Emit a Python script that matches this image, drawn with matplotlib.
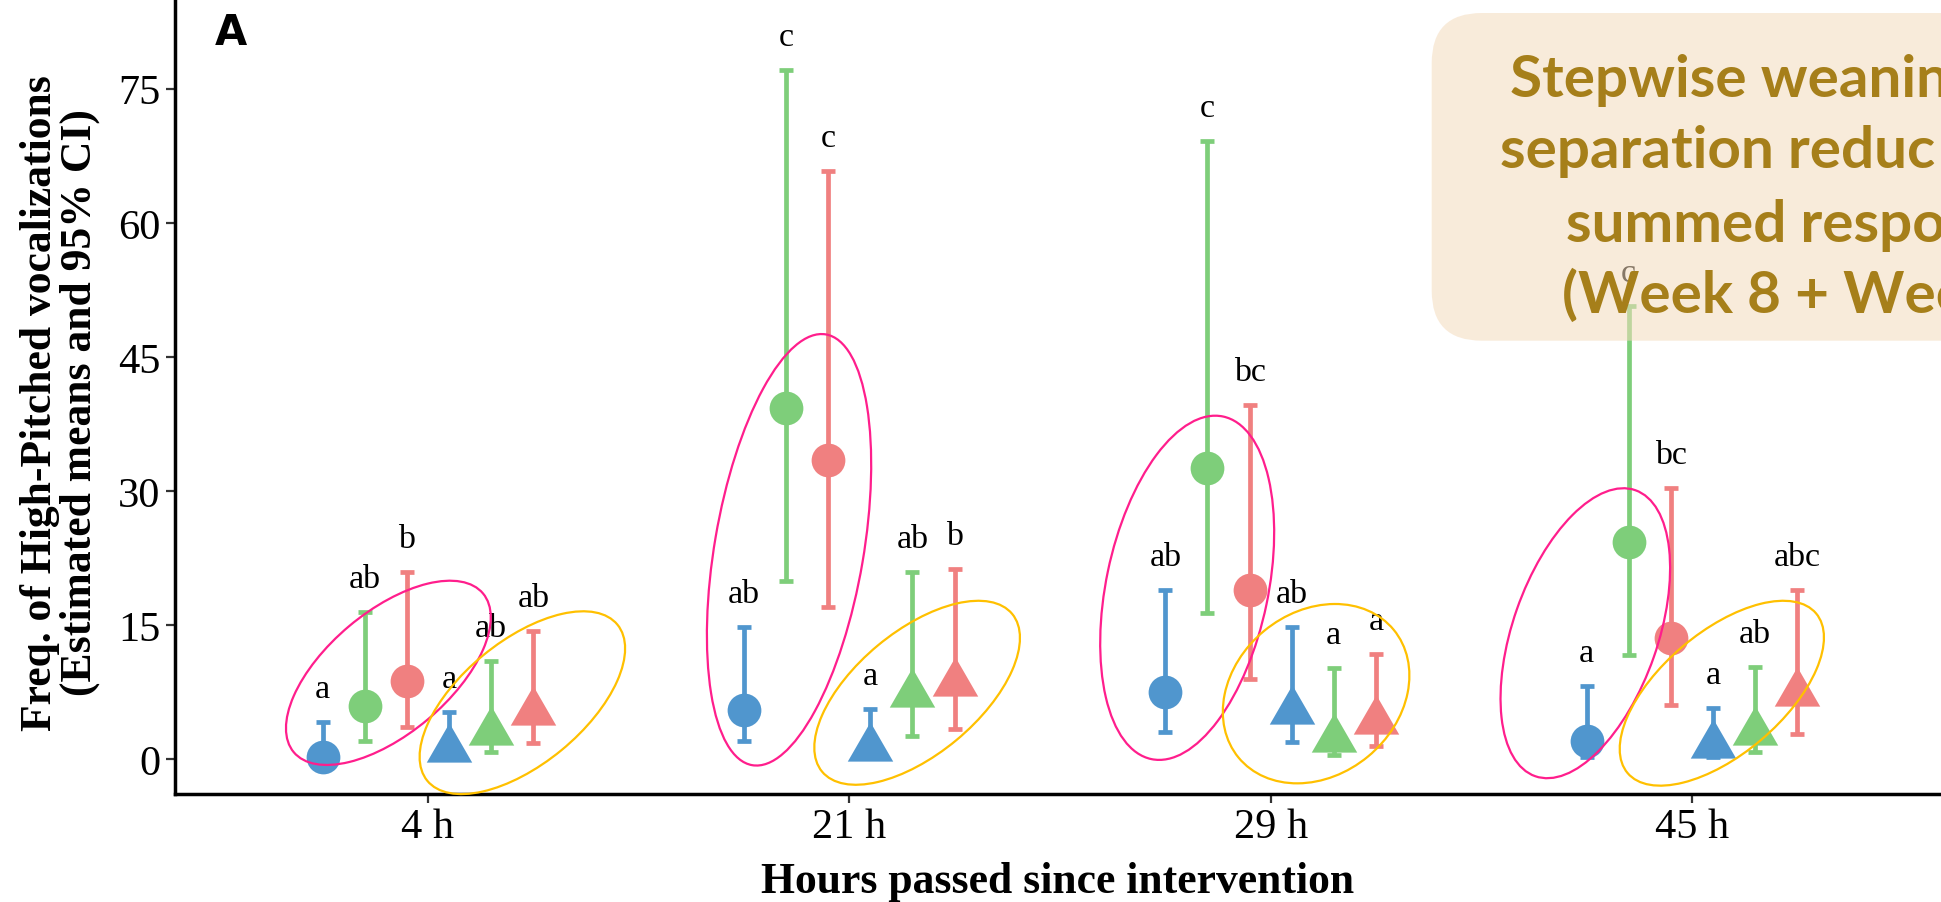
import matplotlib
matplotlib.use("Agg")
import matplotlib.pyplot as plt
from matplotlib.patches import Ellipse, FancyBboxPatch
from matplotlib.path import Path
from matplotlib.transforms import ScaledTranslation

# ---------------- data ----------------
hours = ["4 h", "21 h", "29 h", "45 h"]

# circles (week 8) -- blue / green / red treatment groups
blue_circle_mean = [0.22, 5.55, 7.56, 2.08]
blue_circle_low = [0.02, 2.08, 3.02, 0.30]
blue_circle_high = [4.14, 14.76, 18.97, 8.23]
blue_circle_letters = ["a", "ab", "ab", "a"]

green_circle_mean = [5.93, 39.26, 32.58, 24.34]
green_circle_low = [2.08, 19.90, 16.33, 11.67]
green_circle_high = [16.44, 77.13, 69.10, 50.73]
green_circle_letters = ["ab", "c", "c", "c"]

red_circle_mean = [8.72, 33.50, 18.94, 13.53]
red_circle_low = [3.65, 17.00, 8.98, 6.07]
red_circle_high = [20.98, 65.76, 39.63, 30.31]
red_circle_letters = ["b", "c", "bc", "bc"]

# triangles (week 9)
blue_tri_mean = [1.13, 1.31, 5.41, 1.58]
blue_tri_low = [0.20, 0.30, 1.90, 0.30]
blue_tri_high = [5.33, 5.63, 14.76, 5.70]
blue_tri_letters = ["a", "a", "ab", "a"]

green_tri_mean = [3.06, 7.35, 2.25, 3.10]
green_tri_low = [0.85, 2.57, 0.48, 0.78]
green_tri_high = [10.96, 20.99, 10.17, 10.29]
green_tri_letters = ["ab", "ab", "a", "ab"]

red_tri_mean = [5.30, 8.58, 4.30, 7.46]
red_tri_low = [1.82, 3.39, 1.53, 2.83]
red_tri_high = [14.38, 21.28, 11.78, 18.97]
red_tri_letters = ["ab", "b", "a", "abc"]

# ---------------- styling ----------------
BLUE, GREEN, RED = "#5096CE", "#7ECE7A", "#F08080"
SERIF = "Liberation Serif"

# R-style filled triangle (centroid at the data point)
TRIANGLE = Path([(0, 1.5551), (-1.3468, -0.7776), (1.3468, -0.7776), (0, 1.5551)],
                [Path.MOVETO, Path.LINETO, Path.LINETO, Path.CLOSEPOLY])
CIRCLE_MS = 24.3
TRI_MS = CIRCLE_MS * 1.5551

series = [
    (blue_circle_mean, blue_circle_low, blue_circle_high, blue_circle_letters, BLUE, "o"),
    (green_circle_mean, green_circle_low, green_circle_high, green_circle_letters, GREEN, "o"),
    (red_circle_mean, red_circle_low, red_circle_high, red_circle_letters, RED, "o"),
    (blue_tri_mean, blue_tri_low, blue_tri_high, blue_tri_letters, BLUE, "tri"),
    (green_tri_mean, green_tri_low, green_tri_high, green_tri_letters, GREEN, "tri"),
    (red_tri_mean, red_tri_low, red_tri_high, red_tri_letters, RED, "tri"),
]
dodge = [-0.25, -0.15, -0.05, 0.05, 0.15, 0.25]

W, H = 1941, 903
fig = plt.figure(figsize=(W / 100, H / 100), dpi=100)
fig.patch.set_facecolor("white")

# panel geometry in pixels
left_px, right_px = 175.2, 1944.7
top_px, bottom_px = 0.0, 795.0
ax = fig.add_axes([left_px / W, 1 - bottom_px / H,
                   (right_px - left_px) / W, (bottom_px - top_px) / H])
ax.set_xlim(-0.6, 3.6)
ax.set_ylim(-3.881, 85.03)
ax.set_facecolor("none")

xbase = list(range(len(hours)))

# error bars
for (mean, lo, hi, letters, col, mk), dx in zip(series, dodge):
    xs = [x + dx for x in xbase]
    yerr = [[m - l for m, l in zip(mean, lo)], [h - m for m, h in zip(mean, hi)]]
    ax.errorbar(xs, mean, yerr=yerr, fmt="none", ecolor=col, elinewidth=3.4,
                capsize=4.9, capthick=3.4, zorder=2)

# points
for (mean, lo, hi, letters, col, mk), dx in zip(series, dodge):
    xs = [x + dx for x in xbase]
    if mk == "o":
        ax.plot(xs, mean, linestyle="none", marker="o", ms=CIRCLE_MS,
                color=col, mec="none", zorder=3)
    else:
        ax.plot(xs, mean, linestyle="none", marker=TRIANGLE, ms=TRI_MS,
                color=col, mec="none", zorder=3)

# significance letters above the upper CI
for (mean, lo, hi, letters, col, mk), dx in zip(series, dodge):
    for x, h, lab in zip(xbase, hi, letters):
        ax.annotate(lab, (x + dx, h), xytext=(0, 18), textcoords="offset points",
                    ha="center", va="baseline", fontsize=24.5, family=SERIF,
                    color="black", zorder=4)

# axes styling
for s in ("top", "right"):
    ax.spines[s].set_visible(False)
for s in ("left", "bottom"):
    ax.spines[s].set_linewidth(2.5)
    ax.spines[s].set_color("black")
ax.set_xticks(xbase)
ax.set_xticklabels(hours)
ax.set_yticks([0, 15, 30, 45, 60, 75])
ax.tick_params(axis="both", length=6.5, width=1.6, color="#333333",
               labelsize=30.5, labelcolor="black")
ax.tick_params(axis="x", pad=3)
ax.tick_params(axis="y", pad=4)
for lab in ax.get_xticklabels() + ax.get_yticklabels():
    lab.set_family(SERIF)

fig.text(60 / W, 1 - 403 / H,
         "Freq. of High-Pitched vocalizations\n(Estimated means and 95% CI)",
         rotation=90, ha="center", va="center", multialignment="center",
         fontsize=31.4, fontweight="bold", family=SERIF, linespacing=1.0)
fig.text(1058 / W, 1 - 893 / H, "Hours passed since intervention",
         ha="center", va="baseline", fontsize=31.4, fontweight="bold", family=SERIF)
fig.text(231 / W, 1 - 45 / H, "A", ha="center", va="baseline",
         fontsize=30, fontweight="bold", family="DejaVu Sans")

# grouping ellipses: centre (data), width/height (px), angle (deg)
ellipses = [
    (-0.094, 9.67, 247, 122, 40.0, "#FF1E8C"),
    (0.224, 6.33, 246, 123, 39.4, "#FFC000"),
    (0.857, 23.43, 437, 149, 80.3, "#FF1E8C"),
    (1.161, 7.44, 247, 123, 39.7, "#FFC000"),
    (1.802, 19.18, 350, 162, 78.2, "#FF1E8C"),
    (2.108, 7.34, 201, 163, 39.5, "#FFC000"),
    (2.747, 14.10, 303, 145, 70.7, "#FF1E8C"),
    (3.071, 7.39, 247, 122, 40.3, "#FFC000"),
]
for cx, cy, w, h, ang, col in ellipses:
    tr = fig.dpi_scale_trans + ScaledTranslation(cx, cy, ax.transData)
    e = Ellipse((0, 0), w / 100, h / 100, angle=ang, transform=tr,
                fill=False, edgecolor=col, linewidth=1.6, zorder=5, clip_on=False)
    ax.add_artist(e)

# callout box
box = FancyBboxPatch((1431.7 / 100, (H - 341.7) / 100), 9.0, (341.7 - 14) / 100,
                     boxstyle="round,pad=0,rounding_size=0.5",
                     transform=fig.dpi_scale_trans, facecolor=(244 / 255, 219 / 255, 188 / 255),
                     edgecolor="none", alpha=0.55, zorder=10)
fig.add_artist(box)
box_lines = [
    ("Stepwise weanin", 1510.4, 96.7),
    ("separation reduc", 1500.0, 168.3),
    ("summed respo", 1565.6, 241.7),
    ("(Week 8 + Wee", 1561.5, 313.3),
]
for txt, x0, yb in box_lines:
    fig.text(x0 / W, 1 - yb / H, txt, ha="left", va="baseline", fontsize=42,
             fontweight="bold", family="Lato", color="#A67F1A", zorder=11)

fig.savefig("out.png", dpi=100, facecolor="white")
